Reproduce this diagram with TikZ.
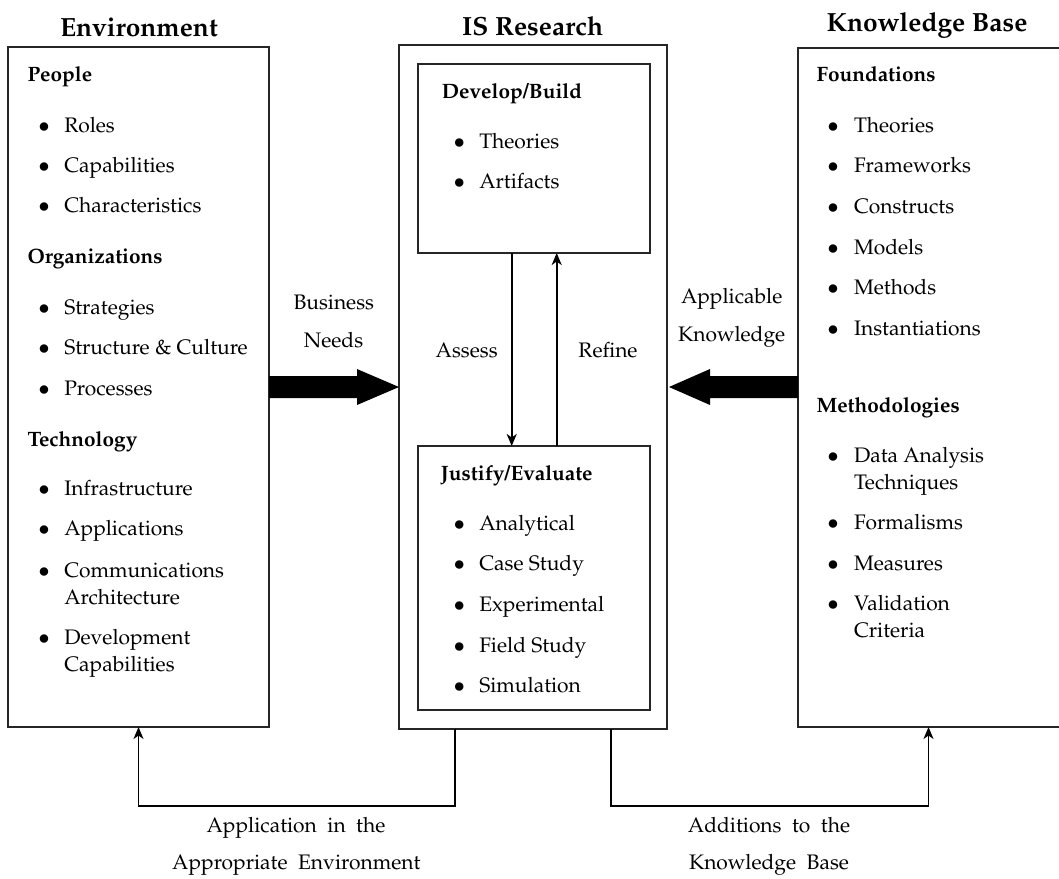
\documentclass[tikz,border=0pt]{standalone}
\usepackage[T1]{fontenc}
\usepackage{mathpazo}
\usetikzlibrary{arrows.meta,calc}

\tikzset{
  txt/.style={inner sep=0pt, outer sep=0pt, font=\fontsize{21}{25}\selectfont},
  item/.style={txt, anchor=base west},
  dot/.style={txt, anchor=base},
  head/.style={inner sep=0pt, anchor=base, font=\bfseries\fontsize{26.3}{30}\selectfont},
  sub/.style={inner sep=0pt, anchor=base west, font=\bfseries\fontsize{20.8}{25}\selectfont},
  lbl/.style={txt, anchor=base},
  box/.style={draw=black!85, line width=1.1pt, inner sep=0pt, outer sep=0pt},
  conn/.style={line width=1.8pt, -{Stealth[length=12pt,width=10pt,inset=3.5pt]}},
  bigarrow/.style={fill=black},
}

\begin{document}
\begin{tikzpicture}[x=1pt,y=-1pt]
\useasboundingbox (0,0) rectangle (1059,878);

% ---- the three columns and the two inner boxes ----
\node[box, minimum width=261pt, minimum height=680pt] (env) at (138.5,387) {};
\node[box, minimum width=268pt, minimum height=684pt] (is)  at (533,387) {};
\node[box, minimum width=232pt, minimum height=189pt] (dev) at (534,158.5) {};
\node[box, minimum width=232pt, minimum height=264pt] (just) at (534,578) {};
\node[inner sep=0pt, outer sep=0pt, minimum width=261pt, minimum height=679pt] (kb) at (928.5,387.5) {};
\draw[draw=black!85, line width=1.1pt] (kb.north east) -- (kb.north west) -- (kb.south west) -- (kb.south east);

% ---- column titles ----
\node[head] (envtitle) at (138.9,36) {Environment};
\node[head] (istitle)  at (532.7,35) {IS Research};
\node[head] (kbtitle)  at (927,31) {Knowledge Base};

% ---- Environment ----
\node[sub] (people) at (27.3,81.7) {People};
\node[sub] (orgs)   at (27.3,263.3) {Organizations};
\node[sub] (tech)   at (27.3,446) {Technology};
\foreach \t/\y [count=\i] in {Roles/132.3, Capabilities/172.5, Characteristics/212.7,
    Strategies/314, {Structure \& Culture}/354.3, Processes/395,
    Infrastructure/495.7, Applications/535.7, Communications/577.3, Development/644}{
  \node[dot]  (envb\i) at (44,\y) {$\bullet$};
  \node[item] (envi\i) at (64.3,\y) {\t};
}
\node[item] (envarch) at (64.3,604) {Architecture};
\node[item] (envcap)  at (64.3,671) {Capabilities};

% ---- Develop/Build ----
\node[sub] (devtitle) at (441.7,98.3) {Develop/Build};
\foreach \t/\y [count=\i] in {Theories/148.3, Artifacts/188.3}{
  \node[dot]  (devb\i) at (459.3,\y) {$\bullet$};
  \node[item] (devi\i) at (479.3,\y) {\t};
}

% ---- Justify/Evaluate ----
\node[sub] (justtitle) at (440.7,480.7) {Justify/Evaluate};
\foreach \t/\y [count=\i] in {Analytical/530.7, {Case Study}/570.7, Experimental/611.5,
    {Field Study}/652, Simulation/692.5}{
  \node[dot]  (justb\i) at (459.3,\y) {$\bullet$};
  \node[item] (justi\i) at (479.3,\y) {\t};
}

% ---- Knowledge Base ----
\node[sub] (found) at (816.3,81.7) {Foundations};
\node[sub] (meth)  at (816.3,412.7) {Methodologies};
\foreach \t/\y [count=\i] in {Theories/132.3, Frameworks/172.7, Constructs/213, Models/254,
    Methods/294.5, Instantiations/335, {Data Analysis}/462.3, Formalisms/529,
    Measures/570.7, Validation/610.7}{
  \node[dot]  (kbb\i) at (833,\y) {$\bullet$};
  \node[item] (kbi\i) at (854,\y) {\t};
}
\node[item] (kbtech) at (854,489) {Techniques};
\node[item] (kbcrit) at (854,637.3) {Criteria};

% ---- wide arrows between the columns ----
\coordinate (bigrow) at (0,387);
\fill[bigarrow] ($(env.east|-bigrow)+(0,-11)$) -- ($(is.west|-bigrow)+(-42,-11)$)
  -- ($(is.west|-bigrow)+(-42,-18)$) -- (is.west|-bigrow)
  -- ($(is.west|-bigrow)+(-42,18)$) -- ($(is.west|-bigrow)+(-42,11)$)
  -- ($(env.east|-bigrow)+(0,11)$) -- cycle;
\fill[bigarrow] ($(kb.west|-bigrow)+(0,-11)$) -- ($(is.east|-bigrow)+(43,-11)$)
  -- ($(is.east|-bigrow)+(43,-18)$) -- ($(is.east|-bigrow)+(2,0)$)
  -- ($(is.east|-bigrow)+(43,18)$) -- ($(is.east|-bigrow)+(43,11)$)
  -- ($(kb.west|-bigrow)+(0,11)$) -- cycle;

\node[lbl] (bus)   at (333.8,309.3) {Business};
\node[lbl] (needs) at (333.5,347.7) {Needs};
\node[lbl] (appl)  at (731.7,303.3) {Applicable};
\node[lbl] (know)  at (731.7,341.7) {Knowledge};

% ---- assess / refine loop ----
\coordinate (assessx) at (511.7,0);
\coordinate (refinex) at (556.7,0);
\draw[conn] (dev.south-|assessx) -- (just.north-|assessx);
\draw[conn] (just.north-|refinex) -- (dev.south-|refinex);
\node[lbl] (assess) at (466.7,357.3) {Assess};
\node[lbl] (refine) at (608,357.3) {Refine};

% ---- feedback paths below ----
\coordinate (lowrow) at (0,805.7);
\coordinate (leftx)  at (455,0);
\coordinate (rightx) at (611.3,0);
\draw[conn] (is.south-|leftx) |- (lowrow-|env.south) -- (env.south);
\draw[conn] (is.south-|rightx) |- (lowrow-|kb.south) -- (kb.south);

\node[lbl] (appin)  at (296,832.3) {Application\ \ in\ \ the};
\node[lbl] (appenv) at (296.3,869.7) {Appropriate\ \ Environment};
\node[lbl] (addto)  at (769,832.3) {Additions\ \ to\ \ the};
\node[lbl] (addkb)  at (769,869.7) {Knowledge\ \ Base};
\end{tikzpicture}
\end{document}
